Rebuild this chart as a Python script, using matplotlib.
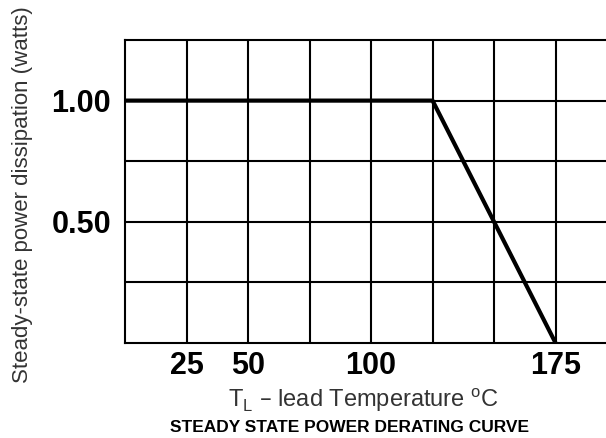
#!/usr/bin/env python3
"""Steady state power derating curve."""

from matplotlib import pyplot as plt

# curve: lead temperature (C) vs power (W)
temp = [0, 125, 175]
power = [1.0, 1.0, 0.0]

x_grid = [25, 50, 75, 100, 125, 150, 175]
x_labels = ['25', '50', '', '100', '', '', '175']
y_grid = [0.25, 0.5, 0.75, 1.0]
y_labels = ['', '0.50', '', '1.00']


def main():
    plt.rcParams['font.family'] = ['Liberation Sans', 'DejaVu Sans']
    fig = plt.figure(figsize=(6.06, 4.38), dpi=100)
    ax = fig.add_axes([125 / 606, 95 / 438, 1 - 125 / 606, 303 / 438])

    ax.plot(temp, power, color='black', lw=3, solid_capstyle='butt',
            zorder=3)

    ax.set_xlim(0, 195.5)
    ax.set_ylim(0, 1.25)
    ax.set_xticks(x_grid)
    ax.set_xticklabels(x_labels, fontsize=22, fontweight='bold')
    ax.set_yticks(y_grid)
    ax.set_yticklabels(y_labels, fontsize=22, fontweight='bold')
    ax.tick_params(axis='x', length=0, pad=6)
    ax.tick_params(axis='y', length=0, pad=10)
    ax.grid(True, color='black', lw=1.5)
    for side in ['left', 'top', 'bottom']:
        ax.spines[side].set_linewidth(1.5)
    ax.spines['right'].set_visible(False)

    fig.text(23 / 606, 1 - 195 / 438, 'Steady-state power dissipation (watts)',
             rotation=90, ha='center', va='center', fontsize=16,
             color='#333333')
    fig.text(363 / 606, 1 - 400 / 438,
             r'T$_\mathregular{L}$ – lead Temperature $^\mathregular{o}$C',
             ha='center', va='center', fontsize=17, color='#333333')
    fig.text(349 / 606, 1 - 427 / 438, 'STEADY STATE POWER DERATING CURVE',
             ha='center', va='center', fontsize=12.5, fontweight='bold')

    fig.savefig('out.png', dpi=100)


if __name__ == "__main__":
    main()
